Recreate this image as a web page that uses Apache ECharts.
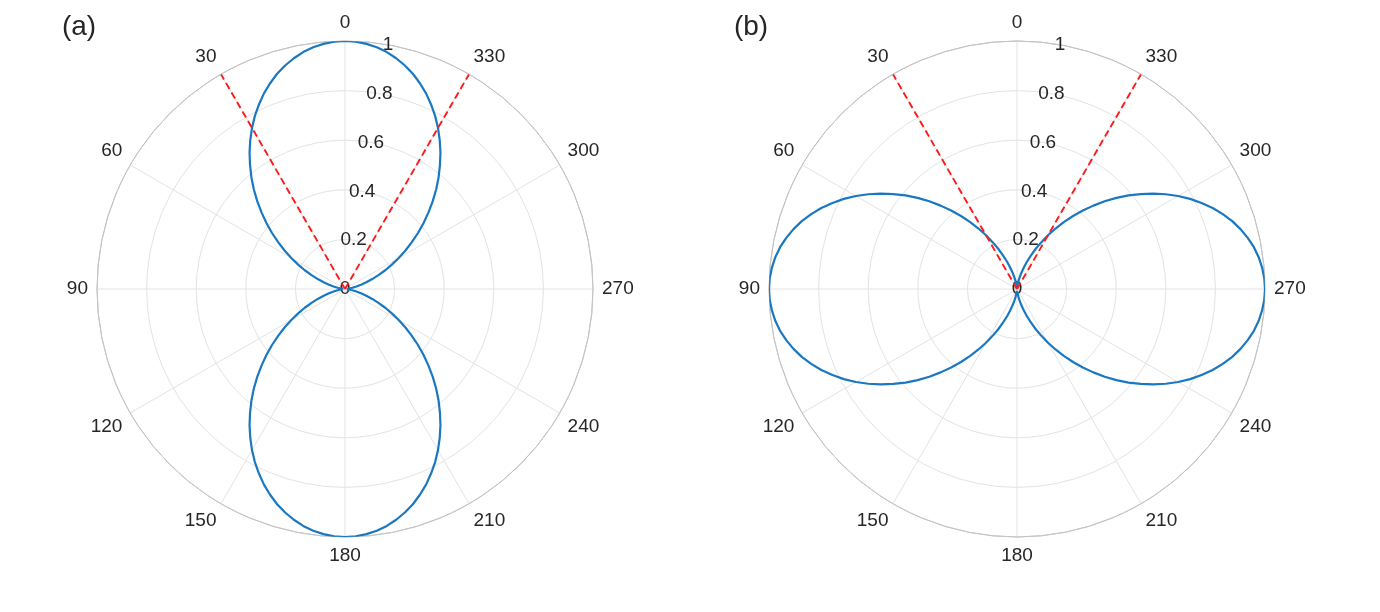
<!DOCTYPE html>
<html>
<head>
<meta charset="utf-8">
<script src="https://cdn.jsdelivr.net/npm/echarts@6/dist/echarts.min.js"></script>
<style>
  html, body { margin: 0; padding: 0; background: #fff; }
  #main { width: 1380px; height: 612px; }
</style>
</head>
<body>
<div id="main"></div>
<script>
// angle of every sample, degrees
const angles = [0, 2.5, 5, 7.5, 10, 12.5, 15, 17.5, 20, 22.5, 25, 27.5, 30, 32.5, 35, 37.5, 40, 42.5, 45,
  47.5, 50, 52.5, 55, 57.5, 60, 62.5, 65, 67.5, 70, 72.5, 75, 77.5, 80, 82.5, 85, 87.5, 90,
  92.5, 95, 97.5, 100, 102.5, 105, 107.5, 110, 112.5, 115, 117.5, 120, 122.5, 125, 127.5, 130, 132.5, 135,
  137.5, 140, 142.5, 145, 147.5, 150, 152.5, 155, 157.5, 160, 162.5, 165, 167.5, 170, 172.5, 175, 177.5, 180,
  182.5, 185, 187.5, 190, 192.5, 195, 197.5, 200, 202.5, 205, 207.5, 210, 212.5, 215, 217.5, 220, 222.5, 225,
  227.5, 230, 232.5, 235, 237.5, 240, 242.5, 245, 247.5, 250, 252.5, 255, 257.5, 260, 262.5, 265, 267.5, 270,
  272.5, 275, 277.5, 280, 282.5, 285, 287.5, 290, 292.5, 295, 297.5, 300, 302.5, 305, 307.5, 310, 312.5, 315,
  317.5, 320, 322.5, 325, 327.5, 330, 332.5, 335, 337.5, 340, 342.5, 345, 347.5, 350, 352.5, 355, 357.5, 360]

// (a) vertical lobes
const radiusA = [1.000, 0.998, 0.992, 0.983, 0.970, 0.953, 0.933, 0.910, 0.883, 0.854, 0.821, 0.787, 0.750, 0.711, 0.671, 0.629, 0.587, 0.544, 0.500,
  0.456, 0.413, 0.371, 0.329, 0.289, 0.250, 0.213, 0.179, 0.146, 0.117, 0.090, 0.067, 0.047, 0.030, 0.017, 0.008, 0.002, 0.000,
  0.002, 0.008, 0.017, 0.030, 0.047, 0.067, 0.090, 0.117, 0.146, 0.179, 0.213, 0.250, 0.289, 0.329, 0.371, 0.413, 0.456, 0.500,
  0.544, 0.587, 0.629, 0.671, 0.711, 0.750, 0.787, 0.821, 0.854, 0.883, 0.910, 0.933, 0.953, 0.970, 0.983, 0.992, 0.998, 1.000,
  0.998, 0.992, 0.983, 0.970, 0.953, 0.933, 0.910, 0.883, 0.854, 0.821, 0.787, 0.750, 0.711, 0.671, 0.629, 0.587, 0.544, 0.500,
  0.456, 0.413, 0.371, 0.329, 0.289, 0.250, 0.213, 0.179, 0.146, 0.117, 0.090, 0.067, 0.047, 0.030, 0.017, 0.008, 0.002, 0.000,
  0.002, 0.008, 0.017, 0.030, 0.047, 0.067, 0.090, 0.117, 0.146, 0.179, 0.213, 0.250, 0.289, 0.329, 0.371, 0.413, 0.456, 0.500,
  0.544, 0.587, 0.629, 0.671, 0.711, 0.750, 0.787, 0.821, 0.854, 0.883, 0.910, 0.933, 0.953, 0.970, 0.983, 0.992, 0.998, 1.000]

// (b) horizontal lobes
const radiusB = [0.000, 0.002, 0.008, 0.017, 0.030, 0.047, 0.067, 0.090, 0.117, 0.146, 0.179, 0.213, 0.250, 0.289, 0.329, 0.371, 0.413, 0.456, 0.500,
  0.544, 0.587, 0.629, 0.671, 0.711, 0.750, 0.787, 0.821, 0.854, 0.883, 0.910, 0.933, 0.953, 0.970, 0.983, 0.992, 0.998, 1.000,
  0.998, 0.992, 0.983, 0.970, 0.953, 0.933, 0.910, 0.883, 0.854, 0.821, 0.787, 0.750, 0.711, 0.671, 0.629, 0.587, 0.544, 0.500,
  0.456, 0.413, 0.371, 0.329, 0.289, 0.250, 0.213, 0.179, 0.146, 0.117, 0.090, 0.067, 0.047, 0.030, 0.017, 0.008, 0.002, 0.000,
  0.002, 0.008, 0.017, 0.030, 0.047, 0.067, 0.090, 0.117, 0.146, 0.179, 0.213, 0.250, 0.289, 0.329, 0.371, 0.413, 0.456, 0.500,
  0.544, 0.587, 0.629, 0.671, 0.711, 0.750, 0.787, 0.821, 0.854, 0.883, 0.910, 0.933, 0.953, 0.970, 0.983, 0.992, 0.998, 1.000,
  0.998, 0.992, 0.983, 0.970, 0.953, 0.933, 0.910, 0.883, 0.854, 0.821, 0.787, 0.750, 0.711, 0.671, 0.629, 0.587, 0.544, 0.500,
  0.456, 0.413, 0.371, 0.329, 0.289, 0.250, 0.213, 0.179, 0.146, 0.117, 0.090, 0.067, 0.047, 0.030, 0.017, 0.008, 0.002, 0.000]

// red dashed limits
const limitAngles = [30, 330]
const limitRadius = [0, 1]

const panelLabels = ['(a)', '(b)']
const centers = [[345, 289], [1017, 289]]
const R = 248

const textColor = '#262626'
const font = 'Liberation Sans, Arial, sans-serif'

const chart = echarts.init(document.getElementById('main'))

const polar = []
const angleAxis = []
const radiusAxis = []
const series = []
const graphic = []

centers.forEach((c, p) => {
  // main polar: grid, angle labels, data
  polar.push({ center: c, radius: R })
  angleAxis.push({
    polarIndex: polar.length - 1,
    type: 'value', min: 0, max: 360, interval: 30,
    startAngle: 90, clockwise: false,
    axisLine: { lineStyle: { color: '#c4c4c4', width: 1 } },
    axisTick: { show: false },
    axisLabel: { margin: 9, color: textColor, fontSize: 19, fontFamily: font },
    splitLine: { show: true, lineStyle: { color: '#e3e3e3', width: 1 } }
  })
  radiusAxis.push({
    polarIndex: polar.length - 1,
    type: 'value', min: 0, max: 1, interval: 0.2,
    axisLine: { show: false }, axisTick: { show: false }, axisLabel: { show: false },
    splitLine: { show: true, lineStyle: { color: ['#e3e3e3', '#e3e3e3', '#e3e3e3', '#e3e3e3', '#e3e3e3', '#c4c4c4'], width: 1 } }
  })
  const main = polar.length - 1

  // second polar only for the r tick labels, turned 10 deg
  polar.push({ center: c, radius: R })
  angleAxis.push({ polarIndex: polar.length - 1, type: 'value', min: 0, max: 360, startAngle: 80, show: false })
  radiusAxis.push({
    polarIndex: polar.length - 1,
    type: 'value', min: 0, max: 1, interval: 0.2,
    axisLine: { show: false }, axisTick: { show: false }, splitLine: { show: false },
    axisLabel: {
      margin: 0, align: 'center', verticalAlign: 'middle',
      showMinLabel: true, showMaxLabel: true,
      color: textColor, fontSize: 19, fontFamily: font
    }
  })

  const rad = p === 0 ? radiusA : radiusB
  series.push({
    type: 'line', coordinateSystem: 'polar', polarIndex: main,
    data: angles.map((a, i) => [rad[i], a]),
    symbol: 'none', smooth: false,
    lineStyle: { color: '#1a78c2', width: 2.2 },
    z: 3
  })
  limitAngles.forEach(a => {
    series.push({
      type: 'line', coordinateSystem: 'polar', polarIndex: main,
      data: limitRadius.map(r => [r, a]),
      symbol: 'none',
      lineStyle: { color: '#ff1a1a', width: 1.9, type: [7, 4] },
      z: 4
    })
  })

  graphic.push({
    type: 'text', x: c[0] - 266, y: 27,
    style: { text: panelLabels[p], fill: textColor, font: '28px ' + font, align: 'center', verticalAlign: 'middle' }
  })
})

chart.setOption({
  animation: false,
  backgroundColor: '#fff',
  polar, angleAxis, radiusAxis, series, graphic
})
</script>
</body>
</html>
